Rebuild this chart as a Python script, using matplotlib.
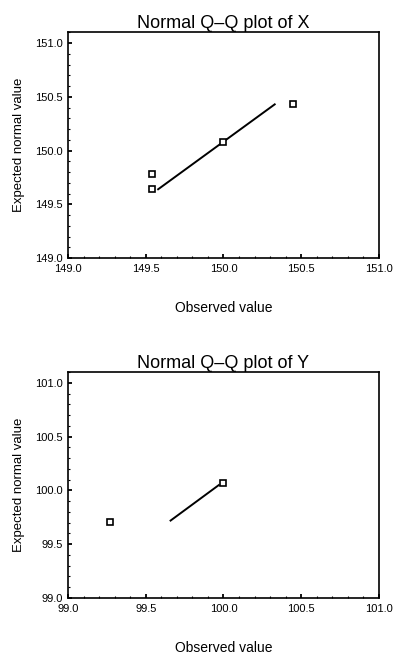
import numpy as np
import matplotlib
matplotlib.use("Agg")
import matplotlib.pyplot as plt
from matplotlib.ticker import MultipleLocator, FormatStrFormatter

plt.rcParams['font.family'] = ['Liberation Sans', 'DejaVu Sans']

# Q-Q data
x_obs = [149.54, 149.54, 150.0, 150.45]
x_exp = [149.78, 149.64, 150.08, 150.43]
x_line_obs = [149.58, 150.33]
x_line_exp = [149.64, 150.43]

y_obs = [99.27, 100.0]
y_exp = [99.71, 100.07]
y_line_obs = [99.66, 99.97]
y_line_exp = [99.72, 100.05]

panels = [
    ("Normal Q\u2013Q plot of X", x_obs, x_exp, x_line_obs, x_line_exp, (149.0, 151.0)),
    ("Normal Q\u2013Q plot of Y", y_obs, y_exp, y_line_obs, y_line_exp, (99.0, 101.0)),
]

fig = plt.figure(figsize=(3.93, 6.6), dpi=100)
bottoms = [0.609, 0.094]

for (title, obs, exp, lo, le, lim), b in zip(panels, bottoms):
    ax = fig.add_axes([0.173, b, 0.791, 0.342])
    ax.plot(lo, le, color='black', lw=1.4)
    ax.plot(obs, exp, 's', ms=3.8, mfc='white', mec='black', mew=1.2)
    ax.set_xlim(lim[0], lim[1])
    ax.set_ylim(lim[0], lim[1] + 0.1)
    ax.xaxis.set_major_locator(MultipleLocator(0.5))
    ax.yaxis.set_major_locator(MultipleLocator(0.5))
    ax.xaxis.set_minor_locator(MultipleLocator(0.1))
    ax.yaxis.set_minor_locator(MultipleLocator(0.1))
    ax.xaxis.set_major_formatter(FormatStrFormatter('%.1f'))
    ax.yaxis.set_major_formatter(FormatStrFormatter('%.1f'))
    ax.tick_params(which='major', direction='in', length=3, width=1.3, labelsize=8, pad=4)
    ax.tick_params(which='minor', direction='in', length=1.5, width=0.8)
    for s in ax.spines.values():
        s.set_linewidth(1.2)
    ax.set_title(title, fontsize=13, pad=3)
    ax.set_xlabel("Observed value", fontsize=10, labelpad=20)
    ax.set_ylabel("Expected normal value", fontsize=9.5, labelpad=7)

fig.savefig("out.png", dpi=100)
